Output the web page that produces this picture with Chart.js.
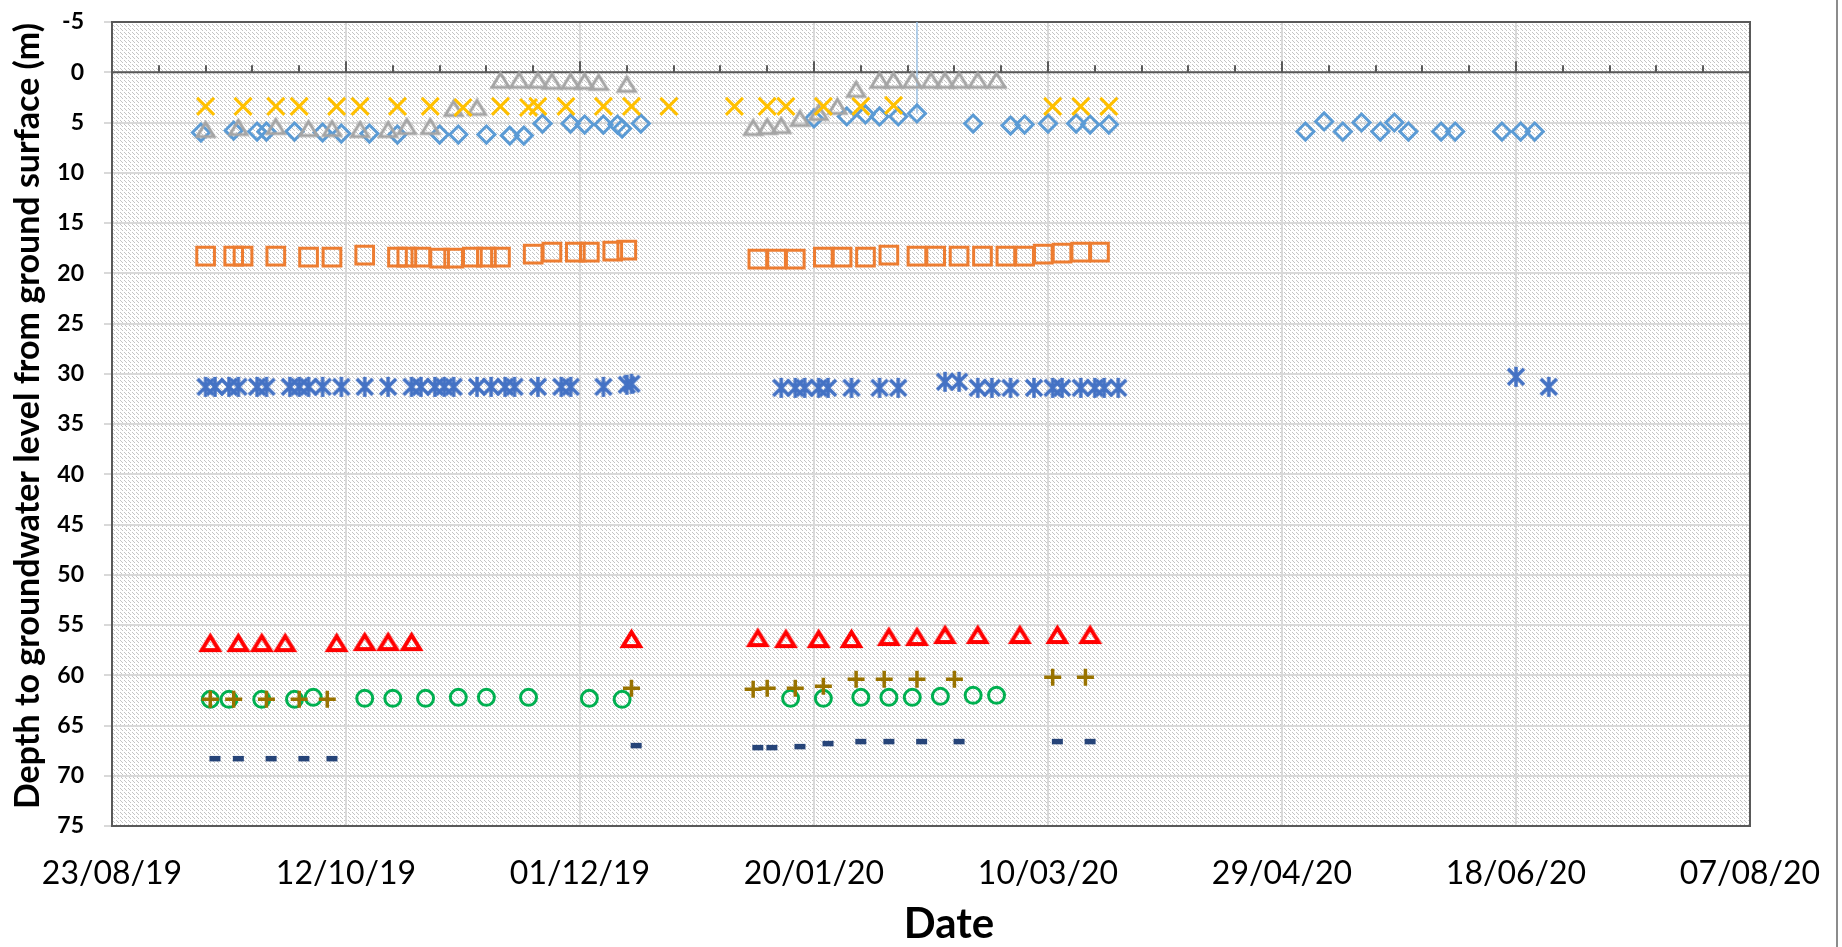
<!DOCTYPE html>
<html>
<head>
<meta charset="utf-8">
<title>Depth to groundwater</title>
<script src="https://cdn.jsdelivr.net/npm/chart.js@4.4.1/dist/chart.umd.min.js"></script>
<style>
  html, body { margin: 0; padding: 0; background: #fff; }
  #wrap { width: 1842px; height: 947px; }
</style>
</head>
<body>
<div id="wrap"><canvas id="chart" width="1842" height="947"></canvas></div>
<script>
// ------------------------
// DATA (dates dd/mm/yy, depth in m)
// ------------------------
const diamondDates = ['11/09/19','18/09/19','23/09/19','25/09/19','01/10/19','07/10/19','11/10/19','17/10/19','23/10/19','01/11/19','05/11/19','11/11/19','16/11/19','19/11/19','23/11/19','29/11/19','02/12/19','06/12/19','09/12/19','10/12/19','14/12/19',
  '20/01/20','27/01/20','31/01/20','03/02/20','07/02/20','11/02/20','23/02/20','02/03/20','05/03/20','10/03/20','16/03/20','19/03/20','23/03/20',
  '04/05/20','08/05/20','12/05/20','16/05/20','20/05/20','23/05/20','26/05/20','02/06/20','05/06/20','15/06/20','19/06/20','22/06/20'];
const diamondDepth = [6.0,5.8,5.9,5.9,5.9,6.0,6.1,6.1,6.2,6.2,6.2,6.2,6.3,6.3,5.1,5.1,5.2,5.2,5.2,5.6,5.1,
  4.6,4.4,4.2,4.4,4.4,4.1,5.1,5.3,5.2,5.1,5.1,5.2,5.2,
  5.9,4.9,5.9,5.0,5.9,5.0,5.9,5.9,5.9,5.9,5.9,5.9];

const squareDates = ['12/09/19','18/09/19','20/09/19','27/09/19','04/10/19','09/10/19','16/10/19','23/10/19','25/10/19','28/10/19','01/11/19','04/11/19','08/11/19','11/11/19','14/11/19','21/11/19','25/11/19','30/11/19','03/12/19','08/12/19','11/12/19',
  '08/01/20','12/01/20','16/01/20','22/01/20','26/01/20','31/01/20','05/02/20','11/02/20','15/02/20','20/02/20','25/02/20','01/03/20','05/03/20','09/03/20','13/03/20','17/03/20','21/03/20'];
const squareDepth = [18.3,18.3,18.3,18.3,18.4,18.4,18.2,18.4,18.4,18.4,18.5,18.5,18.4,18.4,18.4,18.1,17.9,17.9,17.9,17.8,17.7,
  18.6,18.6,18.6,18.4,18.4,18.4,18.2,18.3,18.3,18.3,18.3,18.3,18.3,18.1,18.0,17.9,17.9];

const grayDates = ['12/09/19','19/09/19','27/09/19','04/10/19','09/10/19','15/10/19','21/10/19','25/10/19','30/10/19','04/11/19','09/11/19','14/11/19','18/11/19','22/11/19','25/11/19','29/11/19','02/12/19','05/12/19','11/12/19',
  '07/01/20','10/01/20','13/01/20','17/01/20','21/01/20','25/01/20','29/01/20','03/02/20','06/02/20','10/02/20','14/02/20','17/02/20','20/02/20','24/02/20','28/02/20'];
const grayDepth = [5.7,5.5,5.4,5.6,5.6,5.7,5.7,5.4,5.4,3.6,3.5,0.8,0.8,0.8,0.9,0.9,0.9,1.0,1.2,
  5.5,5.4,5.3,4.6,4.0,3.4,1.7,0.8,0.8,0.8,0.8,0.8,0.8,0.8,0.8];

const crossDates = ['12/09/19','20/09/19','27/09/19','02/10/19','10/10/19','15/10/19','23/10/19','30/10/19','06/11/19','14/11/19','20/11/19','22/11/19','28/11/19','06/12/19','12/12/19','20/12/19',
  '03/01/20','10/01/20','14/01/20','22/01/20','30/01/20','06/02/20','11/03/20','17/03/20','23/03/20'];
const crossDepth = [3.4,3.4,3.4,3.4,3.4,3.4,3.4,3.4,3.5,3.4,3.5,3.4,3.4,3.4,3.4,3.4,
  3.4,3.4,3.4,3.4,3.4,3.3,3.4,3.4,3.4];

const starDates = ['12/09/19','14/09/19','17/09/19','19/09/19','23/09/19','25/09/19','30/09/19','02/10/19','04/10/19','07/10/19','11/10/19','16/10/19','21/10/19','26/10/19','28/10/19','31/10/19','02/11/19','04/11/19','09/11/19','12/11/19','15/11/19','17/11/19','22/11/19','27/11/19','29/11/19','06/12/19','11/12/19','12/12/19',
  '13/01/20','16/01/20','18/01/20','21/01/20','23/01/20','28/01/20','03/02/20','07/02/20','17/02/20','20/02/20','24/02/20','27/02/20','02/03/20','07/03/20','11/03/20','13/03/20','17/03/20','20/03/20','22/03/20','25/03/20',
  '18/06/20','25/06/20'];
const starDepth = [31.3,31.3,31.3,31.3,31.3,31.3,31.3,31.3,31.3,31.3,31.3,31.3,31.3,31.3,31.3,31.3,31.3,31.3,31.3,31.3,31.3,31.3,31.3,31.3,31.3,31.3,31.1,31.0,
  31.4,31.4,31.4,31.4,31.4,31.4,31.4,31.4,30.8,30.8,31.4,31.4,31.4,31.4,31.4,31.4,31.4,31.4,31.4,31.4,
  30.3,31.3];

const redDates = ['13/09/19','19/09/19','24/09/19','29/09/19','10/10/19','16/10/19','21/10/19','26/10/19','12/12/19',
  '08/01/20','14/01/20','21/01/20','28/01/20','05/02/20','11/02/20','17/02/20','24/02/20','04/03/20','12/03/20','19/03/20'];
const redDepth = [56.8,56.8,56.8,56.8,56.8,56.7,56.7,56.7,56.4,
  56.3,56.4,56.4,56.4,56.2,56.2,56.0,56.0,56.0,56.0,56.0];

const plusDates = ['13/09/19','18/09/19','25/09/19','02/10/19','08/10/19','12/12/19',
  '07/01/20','10/01/20','16/01/20','22/01/20','29/01/20','04/02/20','11/02/20','19/02/20','11/03/20','18/03/20'];
const plusDepth = [62.4,62.4,62.4,62.4,62.4,61.3,
  61.4,61.3,61.3,61.1,60.4,60.4,60.4,60.4,60.2,60.2];

const circleDates = ['13/09/19','17/09/19','24/09/19','01/10/19','05/10/19','16/10/19','22/10/19','29/10/19','05/11/19','11/11/19','20/11/19','03/12/19','10/12/19',
  '15/01/20','22/01/20','30/01/20','05/02/20','10/02/20','16/02/20','23/02/20','28/02/20'];
const circleDepth = [62.4,62.4,62.4,62.4,62.2,62.3,62.3,62.3,62.2,62.2,62.2,62.3,62.4,
  62.3,62.3,62.2,62.2,62.2,62.1,62.0,62.0];

const dashDates = ['14/09/19','19/09/19','26/09/19','03/10/19','09/10/19','13/12/19',
  '08/01/20','11/01/20','17/01/20','23/01/20','30/01/20','05/02/20','12/02/20','20/02/20','12/03/20','19/03/20'];
const dashDepth = [68.3,68.3,68.3,68.3,68.3,67.0,
  67.2,67.2,67.1,66.8,66.6,66.6,66.6,66.6,66.6,66.6];

// thin blue marker line at one reading
const markerLineDate = '11/02/20';
const markerLineDepth = [-5, 4.1];

// axis settings
const xStart = '23/08/19';
const xEnd = '07/08/20';
const xStep = 50;
const yMin = -5, yMax = 75, yStep = 5;
const xTitle = 'Date';
const yTitle = 'Depth to groundwater level from ground surface (m)';

// ------------------------
// HELPERS
// ------------------------
// dd/mm/yy -> spreadsheet day number
function serial(d) {
    const [dd, mm, yy] = d.split('/').map(Number);
    return Date.UTC(2000 + yy, mm - 1, dd) / 86400000 + 25569;
}
function dayLabel(v) {
    const dt = new Date((v - 25569) * 86400000);
    const p = n => String(n).padStart(2, '0');
    return p(dt.getUTCDate()) + '/' + p(dt.getUTCMonth() + 1) + '/' + p(dt.getUTCFullYear() % 100);
}
function pts(dates, depths) {
    return dates.map((d, i) => ({ x: serial(d), y: depths[i] }));
}

// hatched plot background
const tile = document.createElement('canvas');
tile.width = 8; tile.height = 8;
const tctx = tile.getContext('2d');
tctx.fillStyle = '#ffffff';
tctx.fillRect(0, 0, 8, 8);
tctx.fillStyle = '#c4c4c4';
for (let y = 0; y < 8; y++) {
    for (let x = 0; x < 8; x++) {
        if ((x - y + 16) % 4 === 0 && (y % 4) < 3) tctx.fillRect(x, y, 1, 1);
    }
}
const hatch = tctx.createPattern(tile, 'repeat');

// star marker: x with a vertical bar
const star = document.createElement('canvas');
star.width = 22; star.height = 24;
const sctx = star.getContext('2d');
sctx.strokeStyle = '#4472C4';
sctx.lineWidth = 3.5;
sctx.beginPath();
sctx.moveTo(3, 4); sctx.lineTo(19, 20);
sctx.moveTo(19, 4); sctx.lineTo(3, 20);
sctx.moveTo(11, 2); sctx.lineTo(11, 22);
sctx.stroke();

// hollow triangle centred on its box (like spreadsheet markers)
function triangle(color, w, h, lw) {
    const c = document.createElement('canvas');
    c.width = w + lw * 2; c.height = h + lw * 2;
    const t = c.getContext('2d');
    t.strokeStyle = color;
    t.lineWidth = lw;
    t.lineJoin = 'miter';
    t.beginPath();
    t.moveTo(c.width / 2, lw);
    t.lineTo(c.width - lw, lw + h);
    t.lineTo(lw, lw + h);
    t.closePath();
    t.stroke();
    return c;
}
const grayTri = triangle('#A5A5A5', 17, 14, 3);
const redTri = triangle('#FF0000', 17, 14, 4);

const frame = {
    id: 'frame',
    beforeDraw(chart) {
        const { ctx, chartArea: a } = chart;
        ctx.save();
        ctx.fillStyle = hatch;
        ctx.fillRect(a.left, a.top, a.right - a.left, a.bottom - a.top);
        ctx.restore();
    },
    beforeDatasetsDraw(chart) {
        const { ctx, chartArea: a, scales: { x, y } } = chart;
        ctx.save();
        ctx.strokeStyle = '#595959';
        ctx.lineWidth = 2;
        const y0 = y.getPixelForValue(0);
        ctx.beginPath();
        ctx.moveTo(a.left, y0);
        ctx.lineTo(a.right, y0);
        for (let d = x.min; d <= x.max + 0.01; d += 10) {
            const px = Math.round(x.getPixelForValue(d));
            const len = Math.round(d - x.min) % 50 === 0 ? 11 : 7;
            ctx.moveTo(px, y0);
            ctx.lineTo(px, y0 - len);
        }
        ctx.stroke();
        ctx.strokeRect(a.left, a.top, a.right - a.left, a.bottom - a.top);
        // outer chart edge on the right
        ctx.strokeStyle = '#8c8c8c';
        ctx.beginPath();
        ctx.moveTo(1837, 0);
        ctx.lineTo(1837, chart.height);
        ctx.stroke();
        ctx.restore();
    },
    afterDraw(chart) {
        // axis titles, placed like the spreadsheet original
        const { ctx } = chart;
        ctx.save();
        ctx.fillStyle = '#000';
        ctx.textAlign = 'center';
        ctx.textBaseline = 'middle';
        ctx.font = 'bold 42px Lato';
        ctx.fillText(xTitle, 949, 924);
        ctx.translate(28, 416);
        ctx.rotate(-Math.PI / 2);
        ctx.font = 'bold 34px Lato';
        ctx.fillText(yTitle, 0, 0);
        ctx.restore();
    }
};

// ------------------------
// CHART
// ------------------------
new Chart(document.getElementById('chart').getContext('2d'), {
    type: 'scatter',
    data: {
        datasets: [
            { data: pts(dashDates, dashDepth), pointStyle: 'line', pointRadius: 5.5, borderColor: '#264478', pointBorderWidth: 5.5 },
            { data: pts(plusDates, plusDepth), pointStyle: 'cross', pointRadius: 8.5, borderColor: '#997300', pointBorderWidth: 3.5 },
            { data: pts(circleDates, circleDepth), pointStyle: 'circle', pointRadius: 8, borderColor: '#00B050', backgroundColor: 'transparent', pointBorderWidth: 3 },
            { data: pts(redDates, redDepth), pointStyle: redTri, pointRadius: 11 },
            { data: pts(starDates, starDepth), pointStyle: star, pointRadius: 10 },
            { data: pts(crossDates, crossDepth), pointStyle: 'crossRot', pointRadius: 12, borderColor: '#FFC000', pointBorderWidth: 3 },
            { data: pts(grayDates, grayDepth), pointStyle: grayTri, pointRadius: 10 },
            { data: pts(squareDates, squareDepth), pointStyle: 'rect', pointRadius: 12.5, borderColor: '#ED7D31', backgroundColor: 'transparent', pointBorderWidth: 3 },
            { data: pts(diamondDates, diamondDepth), pointStyle: 'rectRot', pointRadius: 8.5, borderColor: '#5B9BD5', backgroundColor: 'transparent', pointBorderWidth: 3 },
            { data: markerLineDepth.map(v => ({ x: serial(markerLineDate), y: v })), showLine: true, pointRadius: 0, borderColor: '#9DC3E6', borderWidth: 1.5 }
        ]
    },
    options: {
        responsive: false,
        animation: false,
        events: [],
        layout: { padding: { top: 22, right: 92, left: 0, bottom: 0 } },
        plugins: { legend: { display: false }, tooltip: { enabled: false } },
        scales: {
            x: {
                type: 'linear',
                position: 'bottom',
                min: serial(xStart),
                max: serial(xEnd),
                afterFit: s => { s.height = 121; s.paddingLeft = 0; s.paddingRight = 0; },
                border: { display: false },
                grid: { color: '#d9d9d9', lineWidth: 2, drawTicks: false },
                ticks: {
                    stepSize: xStep,
                    autoSkip: false,
                    maxRotation: 0,
                    padding: 28,
                    color: '#000',
                    font: { family: 'Lato', size: 32 },
                    callback: v => dayLabel(v)
                }
            },
            y: {
                reverse: true,
                min: yMin,
                max: yMax,
                afterFit: s => { s.width = 112; s.paddingTop = 0; s.paddingBottom = 0; },
                border: { display: false },
                grid: { color: '#d9d9d9', lineWidth: 2, drawTicks: true, tickLength: 8 },
                ticks: {
                    stepSize: yStep,
                    padding: 20,
                    color: '#000',
                    font: { family: 'Lato', size: 23, weight: 'bold' }
                }
            }
        }
    },
    plugins: [frame]
});
</script>
</body>
</html>
